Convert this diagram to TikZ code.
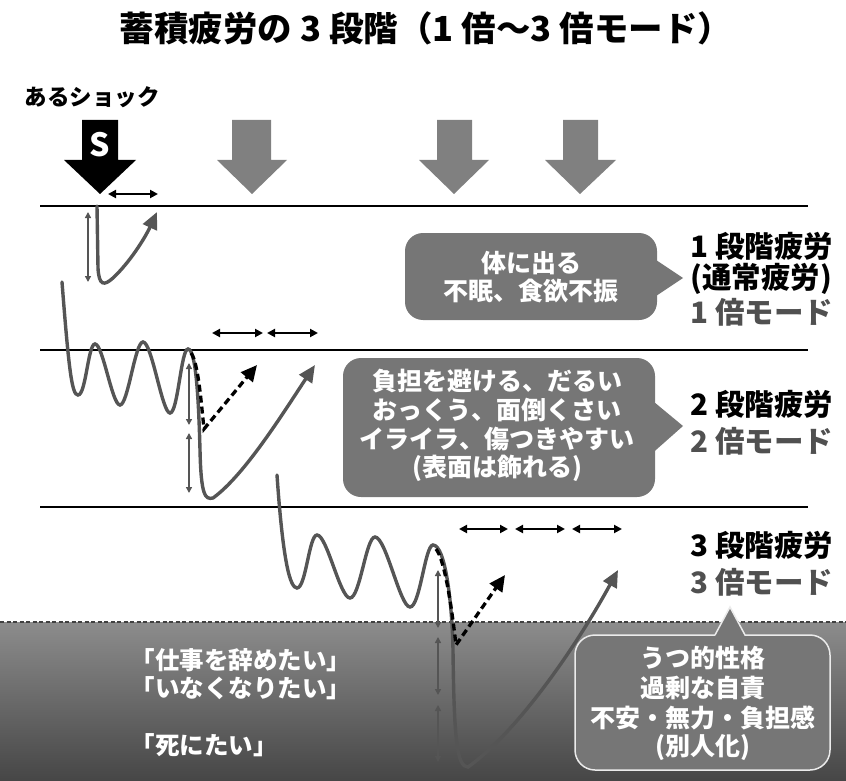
\documentclass[tikz,border=0pt]{standalone}
\usepackage{fontspec}
\setmainfont{Noto Sans CJK JP}
\usetikzlibrary{arrows.meta}
\definecolor{curvec}{HTML}{555555}
\definecolor{bubc}{HTML}{767676}
\definecolor{garrowc}{HTML}{808080}
\definecolor{modec}{HTML}{505050}
\tikzset{
  curvesty/.style={draw=curvec, line width=3.4pt, line cap=round},
  gtip/.style={-{Triangle[length=17pt,width=15pt]}},
  hdarrow/.style={{Triangle[length=8pt,width=8pt]}-{Triangle[length=8pt,width=8pt]}, line width=2pt, draw=black},
  vdarrow/.style={{Triangle[length=6pt,width=6pt]}-{Triangle[length=6pt,width=6pt]}, line width=1.6pt, draw=curvec},
  dashcurve/.style={draw=black, line width=3.3pt, dash pattern=on 7pt off 4pt, -{Triangle[length=16pt,width=15pt]}},
  level/.style={draw=black, line width=1.5pt},
  bubtext/.style={text=white, font=\bfseries\fontsize{25}{25}\selectfont, align=center},
  labtext/.style={anchor=west, font=\bfseries\fontsize{29.5}{29.5}\selectfont},
  wtext/.style={anchor=west, text=white, font=\bfseries\fontsize{24.5}{24.5}\selectfont},
}
\begin{document}
\begin{tikzpicture}[x=1pt,y=-1pt]
\useasboundingbox (0,0) rectangle (846,781);
% background region
\shade[top color={rgb,255:red,140;green,140;blue,140}, bottom color={rgb,255:red,70;green,70;blue,70}] (0,622) rectangle (846,781);
\draw[draw=black!75, line width=1.5pt, dash pattern=on 4pt off 2.5pt] (0,622) -- (846,622);

% title
\node[font=\bfseries\fontsize{34.5}{34.5}\selectfont] (title) at (426,28) {蓄積疲労の 3 段階（1 倍～3 倍モード）};
\node[anchor=west, font=\bfseries\fontsize{22.5}{22.5}\selectfont] (shock) at (21,97) {あるショック};

% block arrows
\fill[black] (82,120) -- (118,120) -- (118,160) -- (136,160) -- (100,194) -- (64,160) -- (82,160) -- cycle;
\node[text=white, font=\bfseries\fontsize{32}{32}\selectfont] (S) at (100,145) {S};
\fill[garrowc] (232,120) -- (271,120) -- (271,160) -- (287,160) -- (252,194) -- (217,160) -- (232,160) -- cycle;
\fill[garrowc] (437,120) -- (472,120) -- (472,160) -- (489,160) -- (454,194) -- (419,160) -- (437,160) -- cycle;
\fill[garrowc] (563,120) -- (598,120) -- (598,160) -- (616,160) -- (580,194) -- (545,160) -- (563,160) -- cycle;

% level lines
\draw[level] (40,206) -- (808,206);
\draw[level] (40,350) -- (808,350);
\draw[level] (40,507) -- (808,507);

% stage 1 curve
\draw[curvesty, gtip] (97,206) -- (98,268) .. controls (99,286) and (104,286) .. (113,278) .. controls (130,262) and (145,238) .. (157,212);
\draw[vdarrow] (88,212) -- (88,282);
\draw[hdarrow] (108,194) -- (158,194);

% stage 2 curve
\draw[curvesty, gtip] (62,282) .. controls (69,372) and (72,395) .. (78,395)
  .. controls (86,395) and (88,344) .. (95,344)
  .. controls (103,344) and (112,405) .. (120,405)
  .. controls (128,405) and (135,342) .. (143,342)
  .. controls (152,342) and (162,413) .. (170,413)
  .. controls (178,413) and (181,349) .. (188,349)
  .. controls (197,349) and (199,415) .. (200,450)
  .. controls (201,495) and (205,500) .. (213,498)
  .. controls (245,475) and (285,410) .. (315,365);
\draw[dashcurve] (191,353) .. controls (198,362) and (201,400) .. (204,429) -- (257,365);
\draw[vdarrow] (189,363) -- (189,425);
\draw[vdarrow] (189,433) -- (189,493);
\draw[hdarrow] (212,333) -- (263,333);
\draw[hdarrow] (267,333) -- (318,333);

% stage 3 curve
\draw[curvesty, gtip] (277,475) .. controls (283,562) and (290,588) .. (297,588)
  .. controls (306,588) and (309,535) .. (317,535)
  .. controls (327,535) and (340,598) .. (350,598)
  .. controls (360,598) and (366,537) .. (375,537)
  .. controls (386,537) and (400,607) .. (410,607)
  .. controls (420,607) and (425,545) .. (433,545)
  .. controls (445,545) and (452,600) .. (453,650)
  .. controls (454,740) and (457,767) .. (468,767)
  .. controls (520,730) and (580,640) .. (618,570);
\draw[dashcurve] (436,549) .. controls (445,560) and (452,610) .. (456,645) -- (505,575);
\draw[vdarrow] (438,570) -- (438,628);
\draw[vdarrow] (438,637) -- (438,695);
\draw[vdarrow] (438,705) -- (438,762);
\draw[hdarrow] (459,529) -- (508,529);
\draw[hdarrow] (515,529) -- (565,529);
\draw[hdarrow] (572,529) -- (622,529);

% bubble 1
\fill[bubc, rounded corners=18pt] (405,233) rectangle (657,320);
\fill[bubc] (650,256) -- (683,278) -- (650,300) -- cycle;
\node[bubtext] (b1a) at (531,263) {体に出る};
\node[bubtext] (b1b) at (531,291) {不眠、食欲不振};

% bubble 2
\fill[bubc, rounded corners=18pt] (343,358) rectangle (655,497);
\fill[bubc] (648,397) -- (683,426) -- (648,457) -- cycle;
\node[bubtext] (b2a) at (497,381) {負担を避ける、だるい};
\node[bubtext] (b2b) at (497,410) {おっくう、面倒くさい};
\node[bubtext] (b2c) at (497,439) {イライラ、傷つきやすい};
\node[bubtext] (b2d) at (497,468) {(表面は飾れる)};

% bubble 3
\draw[fill=bubc, draw=black!8, line width=1.5pt] (715,635) [sharp corners] -- (730,607) -- (745,635) [rounded corners=20pt] -- (830,635) -- (830,770) -- (575,770) -- (575,635) -- (715,635);
\node[bubtext] (b3a) at (703,658) {うつ的性格};
\node[bubtext] (b3b) at (703,688) {過剰な自責};
\node[bubtext] (b3c) at (703,718) {不安・無力・負担感};
\node[bubtext] (b3d) at (703,748) {(別人化)};

% right labels
\node[labtext] (l1a) at (687,246) {1 段階疲労};
\node[labtext] (l1b) at (687,279) {(通常疲労)};
\node[labtext, text=modec] (l1c) at (687,312) {1 倍モード};
\node[labtext] (l2a) at (687,404) {2 段階疲労};
\node[labtext, text=modec] (l2b) at (687,441) {2 倍モード};
\node[labtext] (l3a) at (687,545) {3 段階疲労};
\node[labtext, text=modec] (l3b) at (687,582) {3 倍モード};

% left texts
\node[wtext] (w1) at (127,660) {「仕事を辞めたい」};
\node[wtext] (w2) at (127,688) {「いなくなりたい」};
\node[wtext] (w3) at (127,745) {「死にたい」};
\end{tikzpicture}
\end{document}
